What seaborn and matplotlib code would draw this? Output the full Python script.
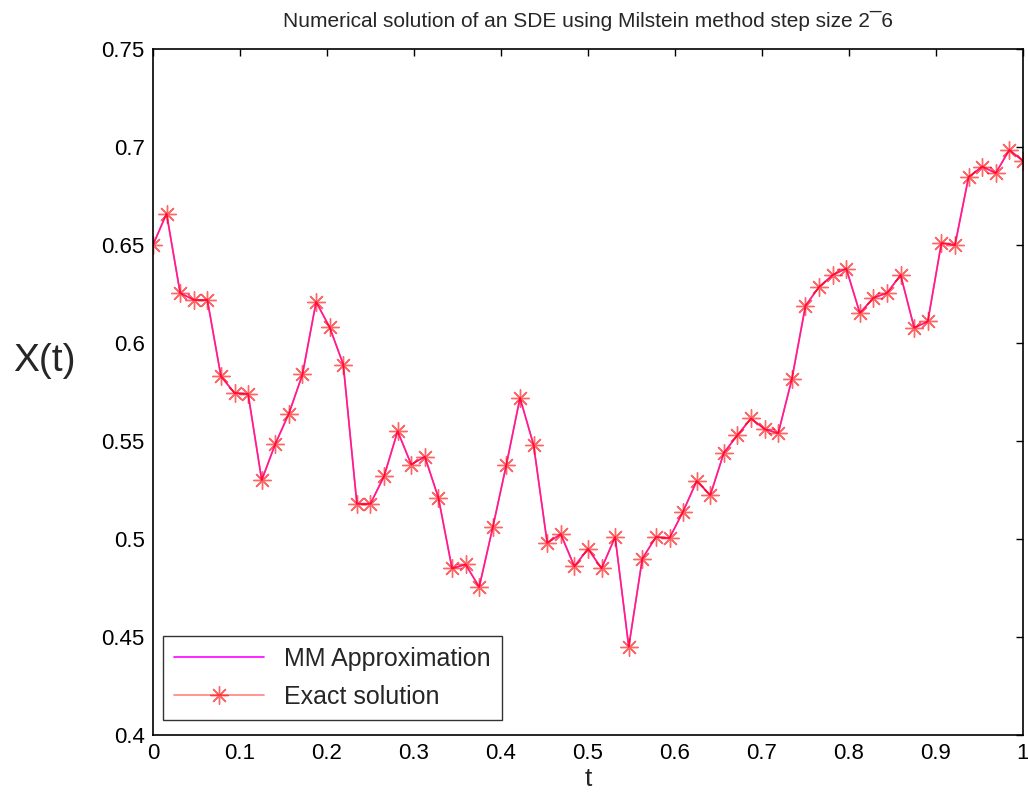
import numpy as np
import pandas as pd
import matplotlib
matplotlib.use('Agg')
import matplotlib.pyplot as plt
import seaborn as sns

# step size 2^-6 -> 65 points on [0, 1]
t = np.linspace(0, 1, 65)

# values
exact = [0.650, 0.666, 0.6255, 0.622, 0.622, 0.583, 0.5745, 0.574, 0.530, 0.5485,
         0.564, 0.584, 0.621, 0.608, 0.589, 0.518, 0.518, 0.532, 0.555, 0.538,
         0.542, 0.521, 0.485, 0.487, 0.4755, 0.506, 0.538, 0.572, 0.548, 0.498,
         0.5025, 0.486, 0.495, 0.485, 0.501, 0.445, 0.490, 0.501, 0.5005, 0.514,
         0.5296, 0.5224, 0.544, 0.553, 0.5615, 0.556, 0.554, 0.5816, 0.619, 0.6286,
         0.6347, 0.638, 0.6153, 0.623, 0.6255, 0.6347, 0.6077, 0.611, 0.651, 0.650,
         0.6847, 0.690, 0.6867, 0.6985, 0.6929]
# MM approximation overlaps the exact solution at this resolution
approx = list(exact)

df = pd.DataFrame({'t': t, 'approx': approx, 'exact': exact})

sns.set_style('white')
plt.rcParams['font.family'] = ['Liberation Sans', 'DejaVu Sans']

fig = plt.figure(figsize=(10.28, 8.10), dpi=100)
ax = fig.add_axes([0.1488, 0.0926, 0.8463, 0.8469])

sns.lineplot(data=df, x='t', y='approx', ax=ax, color='#ff00ff', lw=1.2,
             label='MM Approximation')
# MATLAB style '*' marker: 8 spoked asterisk
sns.lineplot(data=df, x='t', y='exact', ax=ax, color='#ff3030', lw=1.2, alpha=0.6,
             marker=(8, 2, 0), markersize=13, markeredgewidth=1.0,
             markeredgecolor='red', label='Exact solution')

ax.set_xlim(0, 1)
ax.set_ylim(0.4, 0.75)
ax.set_xticks(np.arange(0, 1.01, 0.1))
ax.set_xticklabels(['0', '0.1', '0.2', '0.3', '0.4', '0.5', '0.6', '0.7', '0.8', '0.9', '1'])
ax.set_yticks(np.arange(0.4, 0.751, 0.05))
ax.set_yticklabels(['0.4', '0.45', '0.5', '0.55', '0.6', '0.65', '0.7', '0.75'])
ax.tick_params(direction='in', top=True, right=True, length=5, width=1,
               labelsize=16, pad=6, colors='black')
for s in ax.spines.values():
    s.set_color('black')
    s.set_linewidth(1.2)

ax.set_xlabel('t', fontsize=19, labelpad=2)
ax.set_ylabel('X(t)', fontsize=28, rotation=0, va='center')
ax.yaxis.set_label_coords(-0.125, 0.545)
ax.set_title('Numerical solution of an SDE using Milstein method step size 2\u00af6',
             fontsize=15, pad=16)

leg = ax.legend(loc='lower left', fontsize=18, frameon=True, fancybox=False,
                edgecolor='black', borderpad=0.45, handlelength=3.6,
                labelspacing=0.55, borderaxespad=0,
                bbox_to_anchor=(0.0115, 0.022))
leg.get_frame().set_linewidth(1.0)

fig.savefig('out.png', dpi=100)
